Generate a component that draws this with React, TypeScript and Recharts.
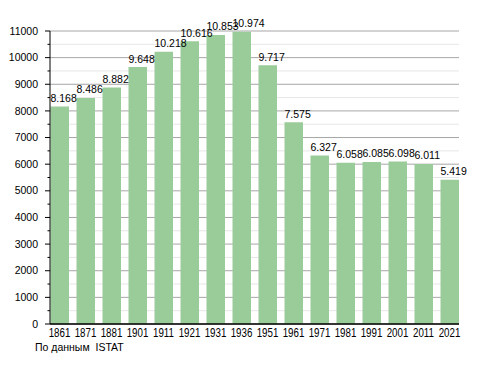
import { BarChart, Bar, XAxis, YAxis, CartesianGrid, LabelList } from 'recharts';

const years = ['1861', '1871', '1881', '1901', '1911', '1921', '1931', '1936', '1951', '1961', '1971', '1981', '1991', '2001', '2011', '2021'];
const population = [8168, 8486, 8882, 9648, 10218, 10616, 10853, 10974, 9717, 7575, 6327, 6058, 6085, 6098, 6011, 5419];
const majorTicks = [0, 1000, 2000, 3000, 4000, 5000, 6000, 7000, 8000, 9000, 10000, 11000];
const minorTicks = [500, 1500, 2500, 3500, 4500, 5500, 6500, 7500, 8500, 9500, 10500];
const allTicks = [...majorTicks, ...minorTicks].sort((a, b) => a - b);

const data = years.map((year, i) => ({ year, value: population[i] }));

const font = '"Liberation Sans", Arial, sans-serif';

// thousands with a dot, as on the source chart
const fmt = (v: number) => {
  const s = String(v);
  return s.length > 3 ? s.slice(0, -3) + '.' + s.slice(-3) : s;
};

function YTick(props: any) {
  const { x, y, payload } = props;
  const major = payload.value % 1000 === 0;
  return (
    <g>
      <line x1={x - (major ? 5 : 2.5)} x2={x} y1={y} y2={y} stroke="#000" strokeWidth={1} />
      {major && (
        <text x={x - 12} y={y} dy="0.35em" textAnchor="end" fontSize={10.5} fill="#000" fontFamily={font}>
          {payload.value}
        </text>
      )}
    </g>
  );
}

// the source uses a narrow face for the years; squeeze a regular one
function XTick(props: any) {
  const { x, y, payload } = props;
  return (
    <g transform={`translate(${x},${y}) scale(0.78,1)`}>
      <text x={0} y={0} dy="0.71em" textAnchor="middle" fontSize={12.5} fill="#000" fontFamily={font}>
        {payload.value}
      </text>
    </g>
  );
}

function ValueLabel(props: any) {
  const { x, y, value } = props;
  return (
    <text x={x} y={y - 4.5} textAnchor="start" fontSize={10.5} fill="#000" fontFamily={font}>
      {fmt(value)}
    </text>
  );
}

export default function App() {
  return (
    <div style={{ position: 'absolute', left: 0, top: 0, width: 488, height: 373, background: '#fff' }}>
      <BarChart width={488} height={373} data={data} margin={{ top: 31, right: 29, left: 0, bottom: 29 }}>
        <CartesianGrid vertical={false} horizontalValues={minorTicks} stroke="#e6e6e6" />
        <CartesianGrid vertical={false} horizontalValues={majorTicks} stroke="#a6a6a6" />
        <XAxis
          dataKey="year"
          padding={{ left: -3.5, right: -3.5 }}
          axisLine={{ stroke: '#000', strokeWidth: 1.5 }}
          tickLine={false}
          tickSize={0}
          tickMargin={4}
          height={20}
          interval={0}
          tick={<XTick />}
        />
        <YAxis
          width={50}
          domain={[0, 11000]}
          ticks={allTicks}
          interval={0}
          axisLine={{ stroke: '#000', strokeWidth: 1 }}
          tickLine={false}
          tickSize={0}
          tickMargin={0}
          tick={<YTick />}
        />
        <Bar dataKey="value" fill="#99cc99" barSize={18.5} isAnimationActive={false}>
          <LabelList dataKey="value" content={<ValueLabel />} />
        </Bar>
      </BarChart>
      <div
        style={{
          position: 'absolute',
          left: 35,
          top: 341,
          fontSize: 10.5,
          fontFamily: font,
          whiteSpace: 'pre',
          color: '#000',
        }}
      >
        По данным  ISTAT
      </div>
    </div>
  );
}
